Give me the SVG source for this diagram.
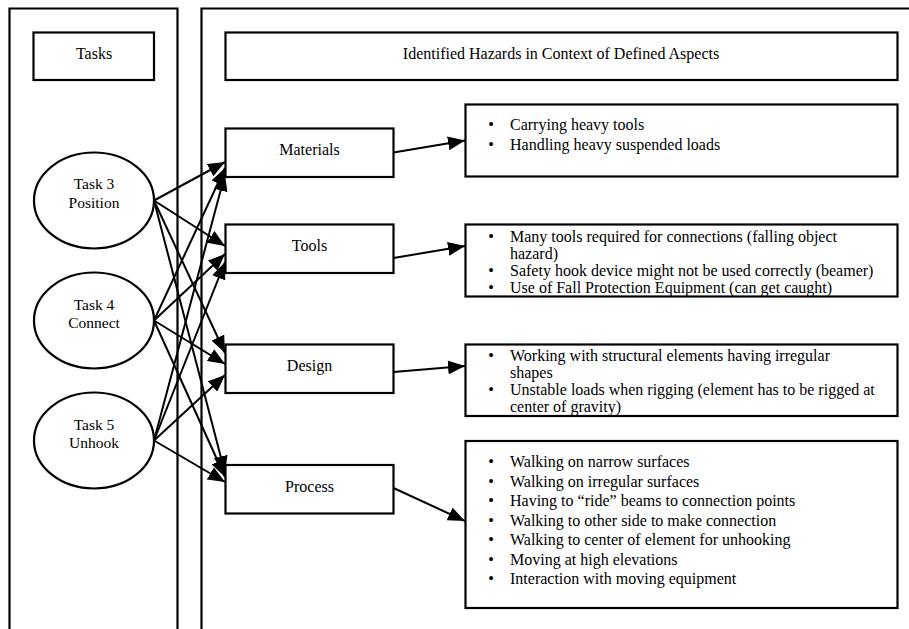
<svg xmlns="http://www.w3.org/2000/svg" width="909" height="629" viewBox="0 0 909 629">
<style>
text{font-family:"Liberation Serif","Times New Roman",serif;font-size:16px;fill:#000}
.c{text-anchor:middle}
.e{font-size:15.5px}
.box{fill:#fff;stroke:#000;stroke-width:2.2}
.col{fill:none;stroke:#000;stroke-width:2.2}
.ln{stroke:#000;stroke-width:2;fill:none;marker-end:url(#ah)}
</style>
<defs>
<marker id="ah" markerUnits="userSpaceOnUse" markerWidth="18" markerHeight="14" refX="17" refY="7" orient="auto">
<path d="M0,0 L17,7 L0,14 z" fill="#000"/>
</marker>
</defs>
<rect width="909" height="629" fill="#fff"/>
<g id="columns">
<path class="col" d="M9.5,640 V8.5 H177.5 V640"/>
<path class="col" d="M201.5,640 V8.5 H915"/>
</g>
<g id="tasks-header"><rect class="box" x="33.5" y="32.5" width="120.5" height="47.5"/><text class="c" x="94" y="59">Tasks</text></g>
<g id="hazards-header"><rect class="box" x="225.5" y="32.5" width="672" height="47.5"/><text class="c" x="561" y="59">Identified Hazards in Context of Defined Aspects</text></g>
<g id="task3"><ellipse class="box" cx="94" cy="200.5" rx="60" ry="48"/><text class="c e" x="94" y="189">Task 3</text><text class="c e" x="94" y="207.5">Position</text></g>
<g id="task4"><ellipse class="box" cx="94" cy="320.5" rx="60" ry="48"/><text class="c e" x="94" y="309.5">Task 4</text><text class="c e" x="94" y="328">Connect</text></g>
<g id="task5"><ellipse class="box" cx="94" cy="440.5" rx="60" ry="48"/><text class="c e" x="94" y="429.5">Task 5</text><text class="c e" x="94" y="448">Unhook</text></g>
<g id="materials"><rect class="box" x="225.5" y="128.5" width="168" height="48.5"/><text class="c" x="309.5" y="155">Materials</text></g>
<g id="tools"><rect class="box" x="225.5" y="224.5" width="168" height="48.5"/><text class="c" x="309.5" y="251">Tools</text></g>
<g id="design"><rect class="box" x="225.5" y="344.5" width="168" height="48.5"/><text class="c" x="309.5" y="371">Design</text></g>
<g id="process"><rect class="box" x="225.5" y="465" width="168" height="48.5"/><text class="c" x="309.5" y="491.5">Process</text></g>
<g id="materials-hazards"><rect class="box" x="465.5" y="104.5" width="432" height="72"/>
<text class="c" x="491" y="130">•</text><text x="510" y="130">Carrying heavy tools</text>
<text class="c" x="491" y="149.5">•</text><text x="510" y="149.5">Handling heavy suspended loads</text></g>
<g id="tools-hazards"><rect class="box" x="465.5" y="224.5" width="432" height="72"/>
<text class="c" x="491" y="242">•</text><text x="510" y="242">Many tools required for connections (falling object</text>
<text x="510" y="259">hazard)</text>
<text class="c" x="491" y="276">•</text><text x="510" y="276">Safety hook device might not be used correctly (beamer)</text>
<text class="c" x="491" y="292.5">•</text><text x="510" y="292.5">Use of Fall Protection Equipment (can get caught)</text></g>
<g id="design-hazards"><rect class="box" x="465.5" y="344.5" width="432" height="71.5"/>
<text class="c" x="491" y="361">•</text><text x="510" y="361">Working with structural elements having irregular</text>
<text x="510" y="378">shapes</text>
<text class="c" x="491" y="395">•</text><text x="510" y="395">Unstable loads when rigging (element has to be rigged at</text>
<text x="510" y="412">center of gravity)</text></g>
<g id="process-hazards"><rect class="box" x="465.5" y="441" width="432" height="167"/>
<text class="c" x="491" y="467">•</text><text x="510" y="467">Walking on narrow surfaces</text>
<text class="c" x="491" y="486.5">•</text><text x="510" y="486.5">Walking on irregular surfaces</text>
<text class="c" x="491" y="506">•</text><text x="510" y="506">Having to “ride” beams to connection points</text>
<text class="c" x="491" y="525.5">•</text><text x="510" y="525.5">Walking to other side to make connection</text>
<text class="c" x="491" y="545">•</text><text x="510" y="545">Walking to center of element for unhooking</text>
<text class="c" x="491" y="564.5">•</text><text x="510" y="564.5">Moving at high elevations</text>
<text class="c" x="491" y="584">•</text><text x="510" y="584">Interaction with moving equipment</text></g>
<g id="connectors">
<line class="ln" x1="154" y1="200.5" x2="225" y2="162"/>
<line class="ln" x1="154" y1="200.5" x2="225" y2="246"/>
<line class="ln" x1="154" y1="200.5" x2="225" y2="353"/>
<line class="ln" x1="154" y1="200.5" x2="225" y2="473"/>
<line class="ln" x1="154" y1="320.5" x2="225" y2="168"/>
<line class="ln" x1="154" y1="320.5" x2="225" y2="254"/>
<line class="ln" x1="154" y1="320.5" x2="225" y2="364"/>
<line class="ln" x1="154" y1="320.5" x2="225" y2="477"/>
<line class="ln" x1="154" y1="440.5" x2="225" y2="174"/>
<line class="ln" x1="154" y1="440.5" x2="225" y2="262"/>
<line class="ln" x1="154" y1="440.5" x2="225" y2="375"/>
<line class="ln" x1="154" y1="440.5" x2="225" y2="482"/>
<line class="ln" x1="393.5" y1="152.5" x2="465" y2="140.5"/>
<line class="ln" x1="393.5" y1="258" x2="465" y2="246"/>
<line class="ln" x1="393.5" y1="372" x2="465" y2="366"/>
<line class="ln" x1="393.5" y1="488" x2="465" y2="521"/>
</g>
</svg>
